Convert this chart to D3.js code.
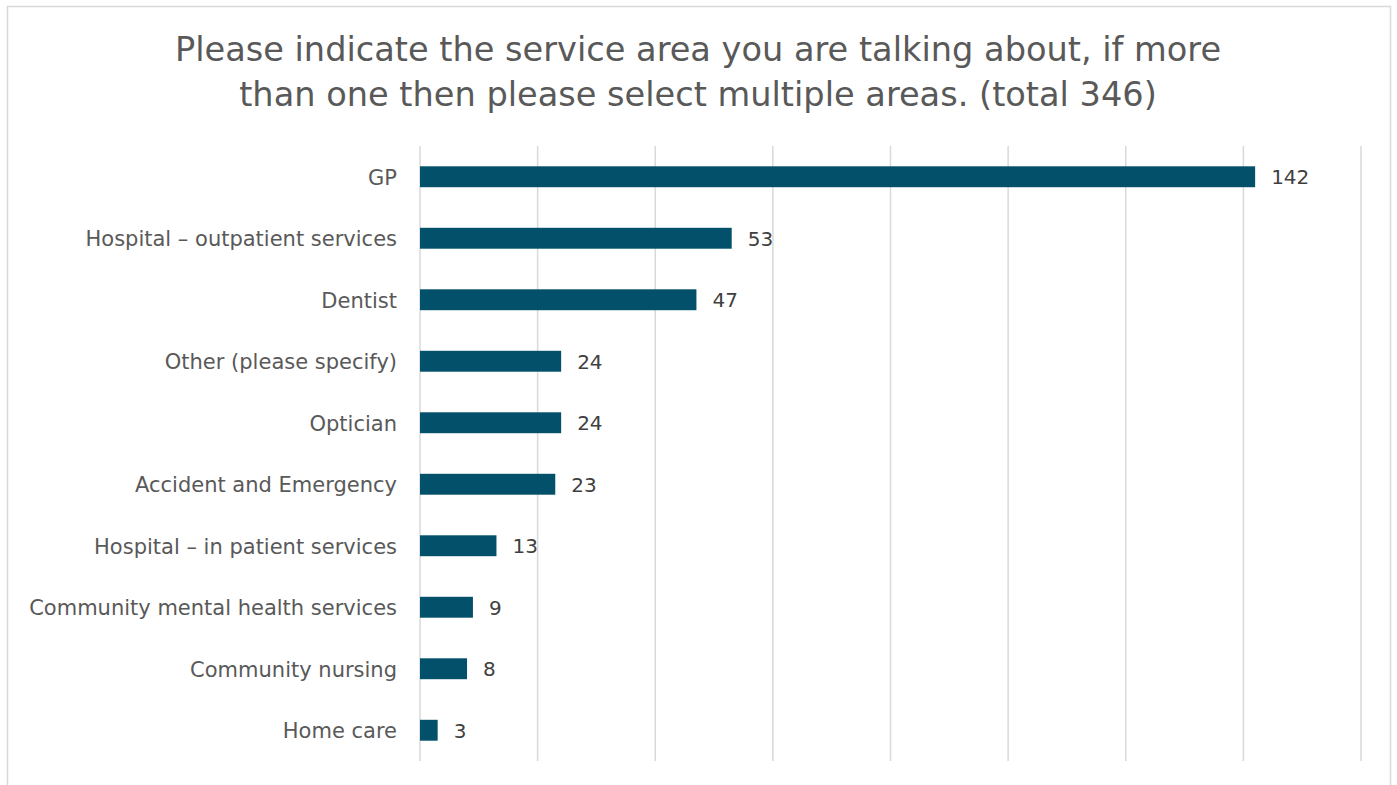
<!DOCTYPE html>
<html>
<head>
<meta charset="utf-8">
<script src="https://cdn.jsdelivr.net/npm/d3@7"></script>
<style>
  body { margin: 0; background: #fff; }
  svg { display: block; font-family: "DejaVu Sans", sans-serif; }
</style>
</head>
<body>
<div id="chart"></div>
<script>
const width = 1397;
const height = 785;

const titleLines = [
    "Please indicate the service area you are talking about, if more",
    "than one then please select multiple areas. (total 346)"
];

const categories = [
    "GP",
    "Hospital \u2013 outpatient services",
    "Dentist",
    "Other (please specify)",
    "Optician",
    "Accident and Emergency",
    "Hospital \u2013 in patient services",
    "Community mental health services",
    "Community nursing",
    "Home care"
];
const counts = [142, 53, 47, 24, 24, 23, 13, 9, 8, 3];
const xTicks = [0, 20, 40, 60, 80, 100, 120, 140, 160];

const margin = { left: 420, right: 36, top: 146, bottom: 24 };
const fontStack = "\"DejaVu Sans\", sans-serif";

const svg = d3.select("#chart").append("svg")
    .attr("width", width)
    .attr("height", height);

// chart frame
svg.append("rect")
    .attr("x", 7.5)
    .attr("y", 6.5)
    .attr("width", 1383)
    .attr("height", 800)
    .attr("fill", "#fff")
    .attr("stroke", "#d9d9d9")
    .attr("stroke-width", 1.5);

const x = d3.scaleLinear()
    .domain([0, 160])
    .range([margin.left, width - margin.right]);

const y = d3.scaleBand()
    .domain(categories)
    .range([margin.top, height - margin.bottom])
    .paddingInner(0.66)
    .paddingOuter(0.33);

// gridlines
svg.append("g")
    .selectAll("line")
    .data(xTicks)
    .enter().append("line")
    .attr("x1", d => x(d))
    .attr("x2", d => x(d))
    .attr("y1", margin.top)
    .attr("y2", height - margin.bottom)
    .attr("stroke", "#d9d9d9")
    .attr("stroke-width", 1.5);

// category labels
const yAxis = svg.append("g")
    .attr("transform", `translate(${margin.left},0)`)
    .call(d3.axisLeft(y).tickSize(0).tickPadding(23));
yAxis.select(".domain").remove();
yAxis.selectAll("text")
    .style("font-size", "21px")
    .style("font-family", fontStack)
    .attr("dy", "0.37em")
    .attr("fill", "#595959");

// bars
svg.append("g")
    .selectAll("rect")
    .data(categories)
    .enter().append("rect")
    .attr("x", x(0))
    .attr("y", d => y(d))
    .attr("width", (d, i) => x(counts[i]) - x(0))
    .attr("height", y.bandwidth())
    .attr("fill", "#02506a");

// value labels
svg.append("g")
    .selectAll("text")
    .data(categories)
    .enter().append("text")
    .attr("x", (d, i) => x(counts[i]) + 16)
    .attr("y", d => y(d) + y.bandwidth() / 2)
    .attr("dy", "0.38em")
    .style("font-size", "20px")
    .attr("fill", "#404040")
    .text((d, i) => counts[i]);

// title
svg.append("text")
    .attr("text-anchor", "middle")
    .attr("x", 698)
    .style("font-size", "33.6px")
    .attr("fill", "#595959")
    .selectAll("tspan")
    .data(titleLines)
    .enter().append("tspan")
    .attr("x", 698)
    .attr("y", (d, i) => 61 + i * 45)
    .text(d => d);
</script>
</body>
</html>
